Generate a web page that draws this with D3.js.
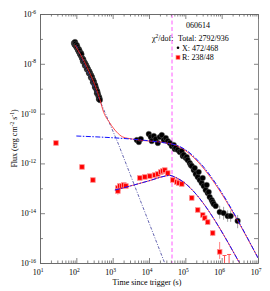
<!DOCTYPE html>
<html>
<head>
<meta charset="utf-8">
<script src="https://cdn.jsdelivr.net/npm/d3@7"></script>
<style>
  body { margin: 0; background: #fff; }
  text { font-family: "Liberation Serif", "DejaVu Serif", serif; fill: #000; }
</style>
</head>
<body>
<div id="chart"></div>
<script>
/**
 * CONSTANTS AND GLOBALS
 * */
const width = 270,
  height = 291,
  margin = { top: 14, right: 12, bottom: 28, left: 40 };

// X-ray (black) data: [time, flux] or [time, flux, low, high]
const xrtEarly = [
  [86, 6.8e-8], [89, 6.0e-8], [92, 5.7e-8], [92, 7.5e-8], [95, 6.3e-8], [97, 5.2e-8], [100, 4.8e-8],
  [104, 4.3e-8], [104, 5.5e-8], [107, 4.6e-8], [111, 3.6e-8], [114, 3.4e-8], [118, 3.0e-8], [118, 3.8e-8],
  [122, 3.3e-8], [126, 2.5e-8], [130, 2.3e-8], [134, 2.1e-8], [134, 2.7e-8], [138, 2.4e-8],
  [143, 1.7e-8], [147, 1.6e-8], [152, 1.56e-8], [152, 1.25e-8], [157, 1.4e-8], [162, 1.18e-8],
  [167, 1.1e-8], [172, 1.08e-8], [172, 8.5e-9], [178, 9.5e-9], [184, 9.0e-9], [190, 7.8e-9],
  [195, 7.4e-9], [195, 6.0e-9], [201, 6.8e-9], [208, 6.2e-9], [215, 5.3e-9], [222, 5.1e-9], [222, 4.2e-9],
  [229, 4.8e-9], [236, 4.3e-9], [244, 3.7e-9], [252, 3.5e-9], [252, 2.8e-9], [260, 3.2e-9],
  [268, 2.95e-9], [277, 2.5e-9], [286, 2.2e-9], [286, 1.8e-9], [295, 2.1e-9], [305, 1.86e-9],
  [314, 1.55e-9], [324, 1.4e-9], [324, 1.15e-9], [334, 1.3e-9], [345, 1.07e-9], [356, 9.5e-10],
  [368, 8.1e-10], [368, 6.5e-10], [380, 7.5e-10], [392, 6.1e-10], [405, 5.2e-10], [418, 4.6e-10],
  [418, 3.8e-10], [432, 4.2e-10], [445, 3.5e-10]
];
const xrtLate = [
  [4620, 8.7e-12], [5250, 7.2e-12], [5950, 9.5e-12], [9880, 1.52e-11], [11200, 1.15e-11],
  [11900, 7.9e-12], [13600, 1.26e-11], [15400, 9.5e-12], [17500, 6.6e-12], [19800, 1.15e-11],
  [22500, 1.38e-11], [25500, 8.7e-12], [29000, 1.05e-11], [32800, 7.9e-12], [37300, 6.6e-12],
  [42300, 5.0e-12], [48000, 5.5e-12], [51200, 3.8e-12], [54500, 4.2e-12], [61800, 3.45e-12],
  [70100, 2.9e-12], [79600, 3.15e-12], [84900, 2.0e-12], [90300, 2.2e-12], [1.03e5, 1.65e-12],
  [1.09e5, 1.8e-12], [1.16e5, 1.37e-12], [1.32e5, 1.04e-12], [1.41e5, 8.6e-13], [1.5e5, 7.9e-13],
  [1.7e5, 5.4e-13], [1.81e5, 6.5e-13], [1.93e5, 3.75e-13], [2.19e5, 2.85e-13], [2.33e5, 4.5e-13],
  [2.49e5, 2.15e-13], [2.82e5, 1.63e-13], [3.01e5, 2.6e-13], [3.2e5, 1.24e-13], [3.63e5, 8.5e-14],
  [3.87e5, 1.36e-13], [4.12e5, 6.5e-14], [4.4e5, 7.1e-14], [4.68e5, 4.5e-14], [5.31e5, 3.4e-14],
  [5.66e5, 2.8e-14], [6.03e5, 2.35e-14], [6.84e5, 1.95e-14]
];
const xrtLast = [
  [8.81e5, 1.12e-14, 6e-15, 2e-14], [1.13e6, 1.02e-14, 5.5e-15, 1.8e-14],
  [1.46e6, 7.7e-15, 4.5e-15, 1.3e-14], [1.77e6, 7.7e-15, 4.5e-15, 1.3e-14],
  [2.75e6, 4.9e-15, 2.5e-15, 8.5e-15]
];

// optical R band (red) data: [time, flux, low, high]
const uvotR = [
  [27.5, 6.6e-12, 5.6e-12, 7.8e-12], [143, 7.2e-13, 6.2e-13, 8.4e-13], [286, 2.15e-13, 1.85e-13, 2.5e-13],
  [1390, 1.03e-13, 8.8e-14, 1.2e-13], [1390, 7.8e-14, 5.6e-14, 9.5e-14], [1580, 1.24e-13, 1.1e-13, 1.4e-13],
  [1790, 1.24e-13, 1.1e-13, 1.4e-13], [2030, 1.36e-13, 1.2e-13, 1.5e-13], [2310, 1.24e-13, 1.1e-13, 1.4e-13],
  [5580, 2.6e-13, 2.3e-13, 2.9e-13], [7670, 2.85e-13, 2.5e-13, 3.2e-13], [10500, 3.1e-13, 2.8e-13, 3.4e-13],
  [14400, 3.4e-13, 3.1e-13, 3.7e-13], [17400, 3.75e-13, 3.4e-13, 4.1e-13], [21100, 4.5e-13, 4.1e-13, 4.9e-13],
  [23900, 4.95e-13, 4.5e-13, 5.4e-13], [27200, 5.4e-13, 4.9e-13, 5.9e-13], [32800, 4.1e-13, 3.7e-13, 4.5e-13],
  [45100, 2.15e-13, 1.9e-13, 2.4e-13], [58000, 1.79e-13, 1.6e-13, 2.0e-13], [65900, 1.63e-13, 1.45e-13, 1.8e-13],
  [79700, 1.49e-13, 1.3e-13, 1.7e-13], [1.5e5, 4.1e-14, 3.5e-14, 4.8e-14], [2.19e5, 1.35e-14, 1.1e-14, 1.6e-14],
  [3.01e5, 8.5e-15, 7e-15, 1.0e-14], [3.41e5, 6.4e-15, 5.2e-15, 7.8e-15], [4.12e5, 4.4e-15, 3.5e-15, 5.4e-15],
  [5.66e5, 1.6e-15, 1.2e-15, 2.0e-15], [8.81e5, 2.8e-16, 1.45e-16, 7e-16]
];
// points whose bars reach the bottom of the frame
const uvotLimits = [[1.2e6, 2.0e-16], [1.6e6, 2.2e-16]];

// model curves
const modelSteep = [[100, 5.5e-8], [1400, 6.6e-12], [2.7e4, 1e-16]];
const modelPlateau = [[100, 1.26e-11], [4.3e4, 6.0e-12], [1e7, 1.6e-16]];
const modelTotal = [
  [91, 5.7e-8], [200, 7e-9], [450, 3.5e-10], [537, 1.4e-10], [835, 4.2e-11],
  [1300, 1.8e-11], [1900, 1.15e-11], [3500, 9.5e-12], [4.3e4, 6.0e-12], [1e7, 1.6e-16]
];
const modelR = [[1150, 8.5e-14], [1e4, 2.0e-13], [2.8e4, 3.1e-13], [3.7e4, 3.3e-13], [5.5e4, 2.7e-13], [3.1e6, 1e-16]];
const breakTime = 4.3e4;

// ticks and legend
const xMajor = [1, 2, 3, 4, 5, 6, 7];
const yMajor = [-16, -14, -12, -10, -8, -6];
const yMinor = [-15, -13, -11, -9, -7];
const grbName = "060614";
const legendRows = ["Total: 2792/936", "X: 472/468", "R: 238/48"];

/**
 * DRAW
 * */
const svg = d3.select("#chart").append("svg")
  .attr("width", width).attr("height", height);

const x = d3.scaleLog().domain([10, 1e7]).range([margin.left, width - margin.right]);
const y = d3.scaleLog().domain([1e-16, 1e-6]).range([height - margin.bottom, margin.top]);

const pBottom = y.range()[0], pTop = y.range()[1], pLeft = x.range()[0], pRight = x.range()[1];

svg.append("clipPath").attr("id", "plot").append("rect")
  .attr("x", pLeft).attr("y", pTop)
  .attr("width", pRight - pLeft).attr("height", pBottom - pTop);

const plot = svg.append("g").attr("clip-path", "url(#plot)");

// axes: inward ticks on all four sides
const minorX = [];
d3.range(1, 7).forEach(e => d3.range(2, 10).forEach(m => minorX.push(m * Math.pow(10, e))));
const majX = xMajor.map(e => Math.pow(10, e));
const allY = yMajor.concat(yMinor).map(e => Math.pow(10, e));

function styleAxis(g) {
  g.selectAll("path").attr("stroke", "#666").attr("stroke-width", 0.8);
  g.selectAll("line").attr("stroke", "#666").attr("stroke-width", 0.8);
  g.selectAll("text").remove();
}

svg.append("g").attr("transform", `translate(0,${pBottom})`)
  .call(d3.axisBottom(x).tickValues(majX).tickSizeInner(-5).tickSizeOuter(0)).call(styleAxis);
svg.append("g").attr("transform", `translate(0,${pBottom})`)
  .call(d3.axisBottom(x).tickValues(minorX).tickSizeInner(-2.5).tickSizeOuter(0)).call(styleAxis);
svg.append("g").attr("transform", `translate(0,${pTop})`)
  .call(d3.axisTop(x).tickValues(majX).tickSizeInner(-5).tickSizeOuter(0)).call(styleAxis);
svg.append("g").attr("transform", `translate(0,${pTop})`)
  .call(d3.axisTop(x).tickValues(minorX).tickSizeInner(-2.5).tickSizeOuter(0)).call(styleAxis);
svg.append("g").attr("transform", `translate(${pLeft},0)`)
  .call(d3.axisLeft(y).tickValues(yMajor.map(e => Math.pow(10, e))).tickSizeInner(-5).tickSizeOuter(0)).call(styleAxis);
svg.append("g").attr("transform", `translate(${pLeft},0)`)
  .call(d3.axisLeft(y).tickValues(yMinor.map(e => Math.pow(10, e))).tickSizeInner(-3).tickSizeOuter(0)).call(styleAxis);
svg.append("g").attr("transform", `translate(${pRight},0)`)
  .call(d3.axisRight(y).tickValues(allY).tickSizeInner(-4).tickSizeOuter(0)).call(styleAxis);

// tick labels: 10 with superscript exponent
svg.selectAll(".xlab").data(xMajor).join("text")
  .attr("class", "xlab")
  .attr("x", d => x(Math.pow(10, d)) - 2)
  .attr("y", pBottom + 12)
  .attr("text-anchor", "middle")
  .attr("font-size", 8)
  .each(function (d) {
    const t = d3.select(this);
    t.append("tspan").text("10");
    t.append("tspan").attr("dy", -3.5).attr("font-size", 5.5).text(d);
  });

svg.selectAll(".ylab").data(yMajor).join("text")
  .attr("class", "ylab")
  .attr("x", pLeft - 4)
  .attr("y", d => y(Math.pow(10, d)) + 3)
  .attr("text-anchor", "end")
  .attr("font-size", 8)
  .each(function (d) {
    const t = d3.select(this);
    t.append("tspan").text("10");
    t.append("tspan").attr("dy", -3.5).attr("font-size", 5.5).text(d);
  });

// axis titles
svg.append("text")
  .attr("x", (pLeft + pRight) / 2 - 2).attr("y", height - 6)
  .attr("text-anchor", "middle").attr("font-size", 8)
  .text("Time since trigger (s)");

const yt = svg.append("text")
  .attr("transform", `translate(17,${(pTop + pBottom) / 2}) rotate(-90)`)
  .attr("text-anchor", "middle").attr("font-size", 8);
yt.append("tspan").text("Flux (erg  cm");
yt.append("tspan").attr("dy", -3).attr("font-size", 5.5).text("-2");
yt.append("tspan").attr("dy", 3).text(" s");
yt.append("tspan").attr("dy", -3).attr("font-size", 5.5).text("-1");
yt.append("tspan").attr("dy", 3).text(")");

// break time marker
plot.append("line")
  .attr("x1", x(breakTime)).attr("x2", x(breakTime))
  .attr("y1", pTop).attr("y2", pBottom)
  .attr("stroke", "#ff80ff").attr("stroke-width", 1.3)
  .attr("stroke-dasharray", "4,2.5");

// error bars
plot.selectAll(".xerr").data(xrtLast).join("line")
  .attr("class", "xerr")
  .attr("x1", d => x(d[0])).attr("x2", d => x(d[0]))
  .attr("y1", d => y(d[2])).attr("y2", d => y(d[3]))
  .attr("stroke", "#888").attr("stroke-width", 0.8);
plot.selectAll(".rerr").data(uvotR).join("line")
  .attr("class", "rerr")
  .attr("x1", d => x(d[0])).attr("x2", d => x(d[0]))
  .attr("y1", d => y(d[2])).attr("y2", d => y(d[3]))
  .attr("stroke", "#ff6060").attr("stroke-width", 0.8);

// black X-ray points
plot.selectAll(".xpt").data(xrtEarly.concat(xrtLate, xrtLast)).join("circle")
  .attr("class", "xpt")
  .attr("cx", d => x(d[0])).attr("cy", d => y(d[1]))
  .attr("r", 2.8)
  .attr("fill", "#000")
  .attr("stroke", "#666").attr("stroke-width", 0.4);

// red R points
plot.selectAll(".rpt").data(uvotR).join("rect")
  .attr("class", "rpt")
  .attr("x", d => x(d[0]) - 2.3).attr("y", d => y(d[1]) - 2.3)
  .attr("width", 4.6).attr("height", 4.6)
  .attr("fill", "#ff0000")
  .attr("stroke", "#ff9090").attr("stroke-width", 0.8);

// red limit bars
plot.selectAll(".rlim").data(uvotLimits).join("path")
  .attr("class", "rlim")
  .attr("d", d => `M${x(d[0]) - 2},${y(d[1])}H${x(d[0]) + 2}M${x(d[0])},${y(d[1])}V${pBottom}`)
  .attr("fill", "none")
  .attr("stroke", "#ff5050").attr("stroke-width", 1);

// model lines
const line = d3.line().x(d => x(d[0])).y(d => y(d[1]));
const smooth = d3.line().x(d => x(d[0])).y(d => y(d[1])).curve(d3.curveMonotoneX);

plot.append("path").datum(modelSteep)
  .attr("d", line).attr("fill", "none")
  .attr("stroke", "#3c3c9c").attr("stroke-width", 0.8)
  .attr("stroke-dasharray", "3,1.5,1,1.5");

plot.append("path").datum(modelTotal)
  .attr("d", smooth).attr("fill", "none")
  .attr("stroke", "#ff2020").attr("stroke-width", 0.8);

plot.append("path").datum(modelPlateau)
  .attr("d", smooth).attr("fill", "none")
  .attr("stroke", "#1010ff").attr("stroke-width", 1)
  .attr("stroke-dasharray", "5,1.5,1.5,1.5");

plot.append("path").datum(modelR)
  .attr("d", smooth).attr("fill", "none")
  .attr("stroke", "#ff2020").attr("stroke-width", 0.8);

plot.append("path").datum(modelR)
  .attr("d", smooth).attr("fill", "none")
  .attr("stroke", "#1010ff").attr("stroke-width", 1)
  .attr("stroke-dasharray", "5,1.5,1.5,1.5");

// legend
svg.append("text").attr("x", 198).attr("y", 28)
  .attr("text-anchor", "middle").attr("font-size", 8).text(grbName);

const chi = svg.append("text").attr("x", 152).attr("y", 41).attr("font-size", 8);
chi.append("tspan").text("χ");
chi.append("tspan").attr("dy", -3).attr("font-size", 5.5).text("2");
chi.append("tspan").attr("dy", 3).text("/dof:");

svg.selectAll(".leg").data(legendRows).join("text")
  .attr("class", "leg")
  .attr("x", (d, i) => i === 0 ? 178 : 182)
  .attr("y", (d, i) => 41 + i * 9.5)
  .attr("font-size", 8)
  .text(d => d);

svg.append("circle").attr("cx", 178).attr("cy", 47.8).attr("r", 1.3).attr("fill", "#000");
svg.append("rect").attr("x", 176).attr("y", 55.3).attr("width", 4).attr("height", 4)
  .attr("fill", "#ff0000").attr("stroke", "#ff9090").attr("stroke-width", 0.7);
</script>
</body>
</html>
